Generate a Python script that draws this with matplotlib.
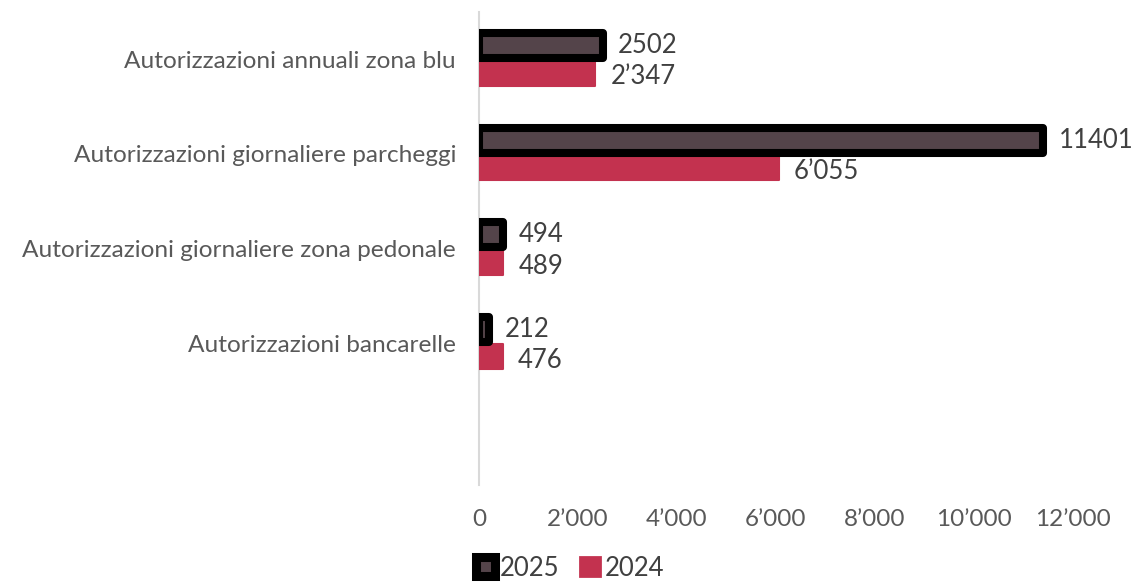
import matplotlib
matplotlib.use("Agg")
import matplotlib.pyplot as plt
from matplotlib.ticker import FuncFormatter
from matplotlib.patches import Patch
import numpy as np

plt.rcParams['font.family'] = ['Lato', 'DejaVu Sans']

categories = [
    "Autorizzazioni annuali zona blu",
    "Autorizzazioni giornaliere parcheggi",
    "Autorizzazioni giornaliere zona pedonale",
    "Autorizzazioni bancarelle",
    "",
]
values_2025 = [2502, 11401, 494, 212]
values_2024 = [2347, 6055, 489, 476]
labels_2025 = ["2502", "11401", "494", "212"]
labels_2024 = ["2\u2019347", "6\u2019055", "489", "476"]
xticks = [0, 2000, 4000, 6000, 8000, 10000, 12000]

c2025_fill = "#54444A"
c2025_edge = "#000000"
c2024 = "#C3324F"
txt_dark = "#404040"
txt_cat = "#595959"

fig = plt.figure(figsize=(11.32, 5.82), dpi=100)
ax = fig.add_axes([479 / 1132, 1 - 485 / 582, (1073 - 479) / 1132, (485 - 12) / 582])

n = len(values_2025)
y = np.arange(n)
h = 0.265
off = 0.145

bars25 = ax.barh(y - off, values_2025, height=h, color=c2025_fill,
                 edgecolor=c2025_edge, linewidth=5.8, zorder=3)
for b in bars25:
    b.set_joinstyle('round')
bars24 = ax.barh(y + off, values_2024, height=h, color=c2024,
                 edgecolor=c2024, linewidth=1.5, zorder=2)
for b in bars24:
    b.set_joinstyle('round')

for yi, v, s in zip(y, values_2025, labels_2025):
    ax.annotate(s, (v, yi - off), xytext=(11, 0), textcoords='offset points',
                ha='left', va='center', fontsize=18.5, color=txt_dark)
for yi, v, s in zip(y, values_2024, labels_2024):
    ax.annotate(s, (v, yi + off + 0.04), xytext=(11, 0), textcoords='offset points',
                ha='left', va='center', fontsize=18.5, color=txt_dark)

ax.set_xlim(0, 12000)
ax.set_ylim(len(categories) - 0.5, -0.5)
ax.set_yticks(np.arange(len(categories)))
ax.set_yticklabels(categories, fontsize=17.6, color=txt_cat)
ax.set_xticks(xticks)
ax.xaxis.set_major_formatter(FuncFormatter(lambda v, p: f"{int(v):,}".replace(",", "\u2019")))
ax.tick_params(axis='x', labelsize=17.5, labelcolor=txt_cat, length=0, pad=17)
ax.tick_params(axis='y', length=0, pad=16.5)

for sp in ['top', 'right', 'bottom']:
    ax.spines[sp].set_visible(False)
ax.spines['left'].set_color('#D9D9D9')
ax.spines['left'].set_linewidth(1.5)
ax.spines['left'].set_zorder(1)

handles = [
    Patch(facecolor=c2025_fill, edgecolor=c2025_edge, linewidth=6.5, joinstyle='round'),
    Patch(facecolor=c2024, edgecolor=c2024, linewidth=2, joinstyle='round'),
]
fig.legend(handles, ["2025", "2024"], loc='center', bbox_to_anchor=(570 / 1132, 1 - 568 / 582),
           ncol=2, frameon=False, fontsize=18.5, labelcolor=txt_dark,
           handlelength=0.75, handleheight=0.75, handletextpad=0.2, columnspacing=0.8)

fig.savefig("out.png", dpi=100)
